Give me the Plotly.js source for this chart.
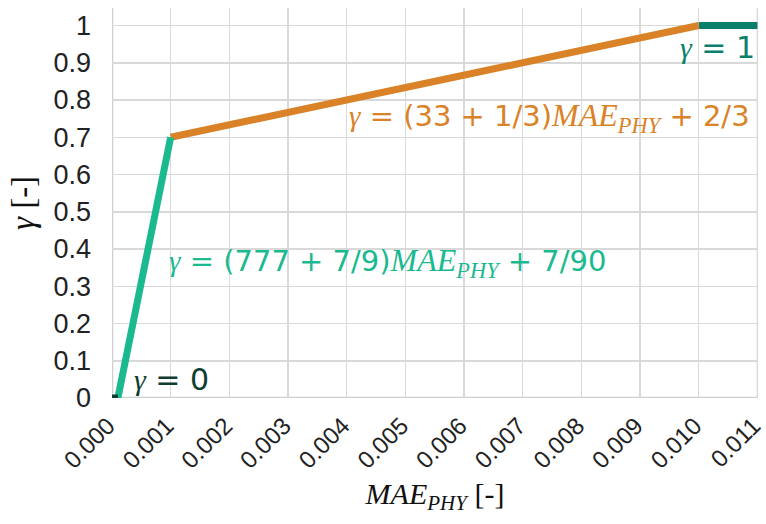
<!DOCTYPE html>
<html>
<head>
<meta charset="utf-8">
<script src="https://cdn.plot.ly/plotly-3.0.1.min.js"></script>
<style>html,body{margin:0;padding:0;background:#fff;}#chart{width:766px;height:524px;}</style>
</head>
<body>
<div id="chart"></div>
<script>
// Piecewise segments (x = MAE_PHY, y = gamma)
const zeroX = [0, 0.0001];
const zeroY = [0, 0];
const rampX = [0.0001, 0.001];
const rampY = [0, 0.7];
const slopeX = [0.001, 0.010];
const slopeY = [0.7, 1.0];
const oneX = [0.010, 0.011];
const oneY = [1.0, 1.0];
const xTickVals = [0,0.001,0.002,0.003,0.004,0.005,0.006,0.007,0.008,0.009,0.010,0.011];
const xTickText = ["0.000","0.001","0.002","0.003","0.004","0.005","0.006","0.007","0.008","0.009","0.010","0.011"];
const yTickVals = [0,0.1,0.2,0.3,0.4,0.5,0.6,0.7,0.8,0.9,1];
const yTickText = ["0","0.1","0.2","0.3","0.4","0.5","0.6","0.7","0.8","0.9","1"];

const serif = "Liberation Serif, DejaVu Serif, serif";
const sans = "Liberation Sans, Arial, sans-serif";
const eqFont = "DejaVu Sans, Verdana, sans-serif";
const mae = '<span style="font-family:Liberation Serif"><i>MAE</i><sub><i>PHY</i></sub></span>';
const maeBig = '<span style="font-family:Liberation Serif;font-size:32px"><i>MAE</i><sub><i>PHY</i></sub></span>';
const gam = '<span style="font-family:Liberation Serif"><i>γ</i></span>';

const cGreen = "#1bb98f", cOrange = "#da8227", cTeal = "#0a7f6c", cDark = "#0f3d31";

const traces = [
  {x: oneX, y: oneY, mode: "lines", line: {color: cTeal, width: 7}, hoverinfo: "skip"},
  {x: slopeX, y: slopeY, mode: "lines", line: {color: cOrange, width: 7}, hoverinfo: "skip"},
  {x: rampX, y: rampY, mode: "lines", line: {color: cGreen, width: 7}, hoverinfo: "skip"},
  {x: zeroX, y: zeroY, mode: "lines", line: {color: cDark, width: 7}, hoverinfo: "skip"}
];

const layout = {
  width: 766, height: 524,
  margin: {l: 112, r: 8, t: 8, b: 126},
  paper_bgcolor: "#fff", plot_bgcolor: "#fff",
  showlegend: false,
  font: {family: sans, size: 26, color: "#222"},
  xaxis: {
    range: [0, 0.01101], tickvals: xTickVals, ticktext: xTickText, tickangle: -45,
    showgrid: true, gridcolor: "#d9d9d9", gridwidth: 1.5, zeroline: false,
    showline: false, ticks: "", ticklabelstandoff: 8, ticklabelshift: -4, ticklabeloverflow: "allow",
    tickfont: {family: sans, size: 24, color: "#222"},
    title: {text: mae + ' [-]', font: {family: serif, size: 30, color: "#111"}, standoff: 10}
  },
  yaxis: {
    range: [0, 1.047], tickvals: yTickVals, ticktext: yTickText,
    showgrid: true, gridcolor: "#d9d9d9", gridwidth: 1.5, zeroline: false,
    showline: false, ticks: "", ticklabelstandoff: 20,
    tickfont: {family: sans, size: 27, color: "#222"},
    title: {text: gam + ' [-]', font: {family: serif, size: 33, color: "#111"}, standoff: 8}
  },
  shapes: [
    {type: "line", xref: "x", yref: "y", x0: 0, x1: 0, y0: 0, y1: 1.047, line: {color: "#cfcfcf", width: 2.5}, layer: "below"},
    {type: "line", xref: "x", yref: "y", x0: 0.011, x1: 0.011, y0: 0, y1: 1.047, line: {color: "#d9d9d9", width: 1.5}, layer: "below"},
    {type: "line", xref: "x", yref: "y", x0: 0, x1: 0.011, y0: 0, y1: 0, line: {color: "#cfcfcf", width: 2.5}, layer: "below"}
  ],
  annotations: [
    {x: 0.00034, y: 0.05, xref: "x", yref: "y", xanchor: "left", yanchor: "middle", showarrow: false,
     text: gam + ' = 0', font: {family: eqFont, size: 30, color: cDark}},
    {x: 0.00093, y: 0.363, xref: "x", yref: "y", xanchor: "left", yanchor: "middle", showarrow: false,
     text: gam + ' = (777 + 7/9)' + maeBig + ' + 7/90', font: {family: eqFont, size: 29, color: cGreen}},
    {x: 0.0040, y: 0.752, xref: "x", yref: "y", xanchor: "left", yanchor: "middle", showarrow: false,
     text: gam + ' = (33 + 1/3)' + maeBig + ' + 2/3', font: {family: eqFont, size: 29, color: cOrange}},
    {x: 0.01099, y: 0.94, xref: "x", yref: "y", xanchor: "right", yanchor: "middle", showarrow: false,
     text: gam + ' = 1', font: {family: eqFont, size: 30, color: cTeal}}
  ]
};

Plotly.newPlot("chart", traces, layout, {displayModeBar: false, staticPlot: true});
</script>
</body>
</html>
